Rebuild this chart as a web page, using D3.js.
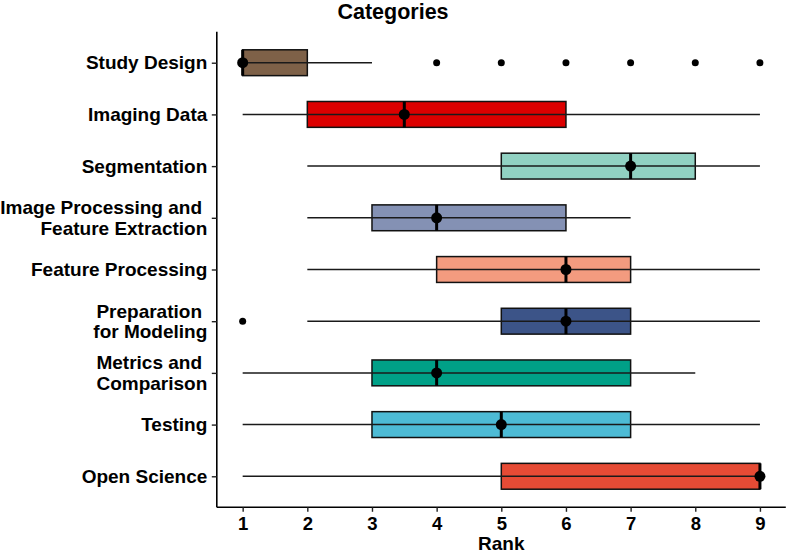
<!DOCTYPE html>
<html>
<head>
<meta charset="utf-8">
<script src="https://cdn.jsdelivr.net/npm/d3@7"></script>
<style>
  html, body { margin: 0; padding: 0; background: #fff; }
  svg { display: block; font-family: "Liberation Sans", Arial, sans-serif; font-weight: bold; }
</style>
</head>
<body>
<svg id="chart" width="786" height="554"></svg>
<script>
// ---- data ----
const categories = [
  "Study Design",
  "Imaging Data",
  "Segmentation",
  "Image Processing and \nFeature Extraction",
  "Feature Processing",
  "Preparation \nfor Modeling",
  "Metrics and \nComparison",
  "Testing",
  "Open Science"
];
const whiskerLow  = [1, 1, 2, 2, 2, 2, 1, 1, 1];
const q1          = [1, 2, 5, 3, 4, 5, 3, 3, 5];
const medians     = [1, 3.5, 7, 4, 6, 6, 4, 5, 9];
const q3          = [2, 6, 8, 6, 7, 7, 7, 7, 9];
const whiskerHigh = [3, 9, 9, 7, 9, 9, 8, 9, 9];
const outliers    = [[4, 5, 6, 7, 8, 9], [], [], [], [], [1], [], [], []];
const xTicks      = [1, 2, 3, 4, 5, 6, 7, 8, 9];
const palette = ["#7E6148", "#DC0000", "#91D1C2", "#8491B4", "#F39B7F",
                 "#3C5488", "#00A087", "#4DBBD5", "#E64B35"];

// ---- layout ----
const W = 786, H = 554;
const pLeft = 216.8, pRight = 785.8, pTop = 31.7, pBottom = 507.3;
const svg = d3.select("#chart");

const x = d3.scaleLinear().domain([0.6, 9.4]).range([pLeft, pRight]);
const y = d3.scalePoint().domain(categories).range([pTop, pBottom]).padding(0.6);
const boxH = y.step() * 0.5;

const rows = categories.map((c, i) => ({
  cat: c, lo: whiskerLow[i], q1: q1[i], med: medians[i], q3: q3[i],
  hi: whiskerHigh[i], out: outliers[i], color: palette[i]
}));

const g = svg.append("g");

// boxes
g.selectAll("rect.box").data(rows).join("rect")
  .attr("class", "box")
  .attr("x", d => x(d.q1))
  .attr("width", d => x(d.q3) - x(d.q1))
  .attr("y", d => y(d.cat) - boxH / 2)
  .attr("height", boxH)
  .attr("fill", d => d.color)
  .attr("stroke", "#111")
  .attr("stroke-width", 1.5);

// whiskers (line across full range)
g.selectAll("line.whisk").data(rows).join("line")
  .attr("class", "whisk")
  .attr("x1", d => x(d.lo)).attr("x2", d => x(d.hi))
  .attr("y1", d => y(d.cat)).attr("y2", d => y(d.cat))
  .attr("stroke", "#1a1a1a").attr("stroke-width", 1.5);

// median lines
g.selectAll("line.med").data(rows).join("line")
  .attr("class", "med")
  .attr("x1", d => x(d.med)).attr("x2", d => x(d.med))
  .attr("y1", d => y(d.cat) - boxH / 2).attr("y2", d => y(d.cat) + boxH / 2)
  .attr("stroke", "#000").attr("stroke-width", 3);

// median dots
g.selectAll("circle.med").data(rows).join("circle")
  .attr("class", "med")
  .attr("cx", d => x(d.med)).attr("cy", d => y(d.cat))
  .attr("r", 5.5).attr("fill", "#000");

// outliers
const outPts = rows.flatMap(d => d.out.map(v => ({ cat: d.cat, v })));
g.selectAll("circle.out").data(outPts).join("circle")
  .attr("class", "out")
  .attr("cx", d => x(d.v)).attr("cy", d => y(d.cat))
  .attr("r", 3.5).attr("fill", "#000");

// ---- axes ----
const xAxis = d3.axisBottom(x).tickValues(xTicks).tickFormat(d3.format("d"))
  .tickSize(4.5).tickPadding(4);
const xg = svg.append("g").attr("transform", `translate(0,${pBottom})`).call(xAxis);
xg.select(".domain").attr("d", `M${pLeft},0H${pRight}`).attr("stroke", "#000").attr("stroke-width", 1.6);
xg.selectAll(".tick line").attr("stroke", "#222").attr("stroke-width", 1.4);
xg.selectAll(".tick text").attr("fill", "#000")
  .style("font-size", "18.5px").style("font-weight", "bold")
  .style("font-family", "'Liberation Sans', Arial, sans-serif")
  .attr("y", 22.7).attr("dy", null);

const yAxis = d3.axisLeft(y).tickSize(5).tickFormat("");
const yg = svg.append("g").attr("transform", `translate(${pLeft},0)`).call(yAxis);
yg.select(".domain").attr("d", `M0,${pTop}V${pBottom}`).attr("stroke", "#000").attr("stroke-width", 1.6);
yg.selectAll(".tick line").attr("stroke", "#222").attr("stroke-width", 1.4);

// y labels (multi-line)
const lab = svg.append("g").attr("text-anchor", "end")
  .style("font-size", "19px").style("font-weight", "bold").attr("fill", "#000");
categories.forEach(c => {
  const lines = c.split("\n");
  const lh = 20.5;
  const cy = y(c);
  const t = lab.append("text").attr("x", pLeft - 9.5).attr("xml:space", "preserve")
    .style("white-space", "pre");
  lines.forEach((ln, k) => {
    t.append("tspan").attr("x", pLeft - 9.5)
      .attr("y", cy + (k - (lines.length - 1) / 2) * lh)
      .attr("dy", "0.35em").text(ln);
  });
});

// titles
svg.append("text").attr("x", W / 2).attr("y", 18.5)
  .attr("text-anchor", "middle").style("font-size", "21.5px").style("font-weight", "bold")
  .text("Categories");
svg.append("text").attr("x", (pLeft + pRight) / 2).attr("y", 549.5)
  .attr("text-anchor", "middle").style("font-size", "19px").style("font-weight", "bold")
  .text("Rank");
</script>
</body>
</html>
